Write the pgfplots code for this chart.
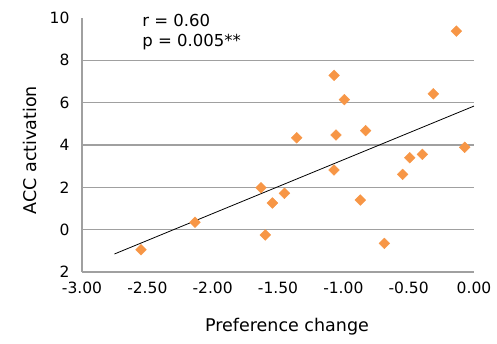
\documentclass[border=0pt]{standalone}
\usepackage{pgfplots}
\pgfplotsset{compat=1.18}
\usepackage{fontspec}
\setmainfont{DejaVu Sans}
\definecolor{dots}{HTML}{F79646}
\definecolor{gridc}{HTML}{A0A0A0}
\begin{document}
\begin{tikzpicture}
\useasboundingbox (-82pt,-71pt) rectangle (415pt,272pt);
\begin{axis}[
  at={(0pt,0pt)}, anchor=south west,
  scale only axis, width=392pt, height=254pt,
  xmin=-3, xmax=0, ymin=-2, ymax=10,
  axis lines=left,
  axis line style={draw=gridc, line width=1.1pt, -},
  xtick={-3,-2.5,-2,-1.5,-1,-0.5,0},
  xticklabels={-3.00,-2.50,-2.00,-1.50,-1.00,-0.50,0.00},
  ytick={-2,0,2,4,6,8},
  yticklabels={2,0,2,4,6,8},
  extra y ticks={10}, extra y tick labels={10},
  extra tick style={grid=none},
  ymajorgrids,
  major grid style={draw=gridc, line width=1.1pt},
  major tick length=0pt,
  tick style={draw=none},
  ticklabel style={font=\fontsize{15.5}{17}\selectfont},
  yticklabel style={xshift=-9pt},
  xticklabel style={yshift=-6pt},
  xlabel={Preference change},
  ylabel={ACC activation},
  every axis x label/.style={at={(axis description cs:0.523,0)}, anchor=center, yshift=-55pt, font=\fontsize{17.5}{20}\selectfont},
  every axis y label/.style={at={(axis description cs:0,0.48)}, anchor=center, xshift=-52pt, rotate=90, font=\fontsize{17.5}{20}\selectfont},
  clip=false,
]
\addplot[only marks, mark=square*, mark size=3.8pt, mark options={rotate=45, draw=dots, fill=dots}] coordinates {
(-2.548,-0.95) (-2.135,0.35) (-1.63,1.98) (-1.597,-0.25) (-1.543,1.26)
(-1.451,1.72) (-1.357,4.34) (-1.071,7.29) (-1.056,4.47) (-1.071,2.82)
(-0.992,6.14) (-0.870,1.40) (-0.829,4.68) (-0.686,-0.65) (-0.546,2.61)
(-0.492,3.40) (-0.395,3.56) (-0.311,6.42) (-0.135,9.38) (-0.071,3.89)
};
\addplot[black, line width=0.8pt] coordinates {(-2.752,-1.15) (0,5.84)};
\node[anchor=west, font=\fontsize{16.5}{18}\selectfont, inner sep=0pt] at (axis cs:-2.54,9.9) {r = 0.60};
\node[anchor=west, font=\fontsize{16.5}{18}\selectfont, inner sep=0pt] at (axis cs:-2.54,8.85) {p = 0.005**};
\end{axis}
\end{tikzpicture}
\end{document}
